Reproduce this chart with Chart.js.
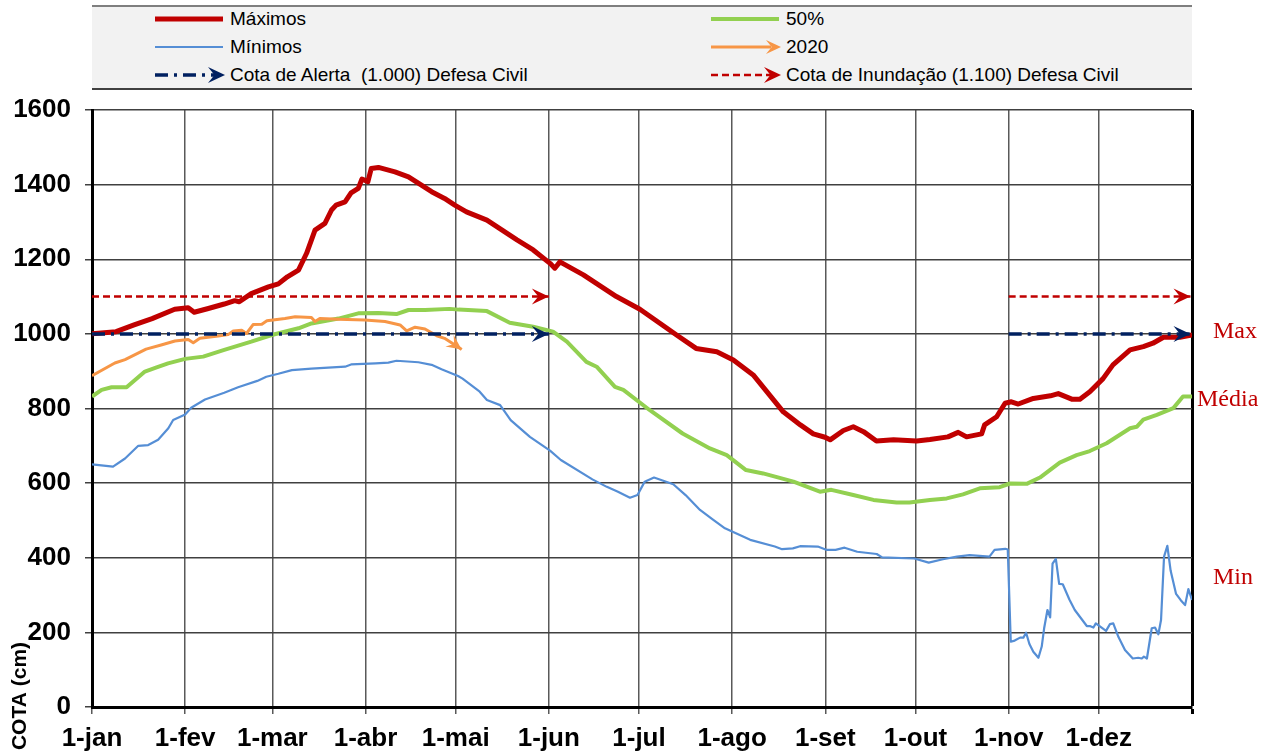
<!DOCTYPE html>
<html><head><meta charset="utf-8">
<script src="https://cdn.jsdelivr.net/npm/chart.js@4.4.1/dist/chart.umd.min.js"></script>
<style>
html,body{margin:0;padding:0;background:#fff;}
#wrap{position:relative;width:1268px;height:753px;overflow:hidden;background:#fff;}
#c{position:absolute;left:0;top:0;}
#legend{position:absolute;left:92px;top:5px;width:1100px;height:85px;background:#f2f2f2;border-top:2px solid #7f7f7f;border-bottom:2px solid #404040;box-sizing:border-box;font-family:"Liberation Sans",Arial,sans-serif;font-size:19px;color:#000;}
.item{position:absolute;height:24px;line-height:24px;white-space:pre;}
.item canvas{position:absolute;left:0;top:0;}
.item span{position:absolute;left:75px;top:0;}
</style>
</head><body>
<div id="wrap">
<canvas id="c" width="1268" height="753"></canvas>
<div id="legend"></div>
</div>
<script>
// ---------- axis ----------
const monthDays = [0,31,60,91,121,152,182,213,244,274,305,335,366];
const monthLabels = ['1-jan','1-fev','1-mar','1-abr','1-mai','1-jun','1-jul','1-ago','1-set','1-out','1-nov','1-dez',''];
const yTicksMin = 0, yTicksMax = 1600, yStep = 200;

// ---------- series labels ----------
const labelMax = 'Máximos';
const labelMed = '50%';
const labelMin = 'Mínimos';
const label2020 = '2020';
const labelAlert = 'Cota de Alerta  (1.000) Defesa Civil';
const labelFlood = 'Cota de Inundação (1.100) Defesa Civil';

// ---------- Máximos ----------
const maxDays = [0,8,14,20,27.5,32,34,38.7,44,47.5,49,53,58.7,62,65,68.7,71.4,74.2,77.5,79.7,81.2,84.2,86.2,88.6,89.8,91.8,92.9,95.3,100.8,105.3,113,117.3,120.7,124.6,131.4,141.4,146.8,152.4,154,155.7,163.5,174.5,182.3,194.5,201,207.9,213.4,220,230,235.7,240,243.9,245.6,250,253.3,256.7,261,266.7,274.4,278.8,284.8,288.2,291,296,297,301,303.8,305.9,308.2,313.2,318.9,321.5,326,328.7,332,336.4,339.7,345.4,349.8,353,356.5,362,366];
const maxVals = [1000,1006,1024,1041,1066,1070,1058,1068,1080,1089,1086,1108,1126,1134,1153,1171,1216,1278,1296,1332,1345,1354,1378,1390,1415,1408,1443,1446,1434,1421,1381,1363,1345,1327,1305,1252,1225,1189,1176,1193,1158,1100,1066,997,961,952,930,890,791,756,732,723,716,741,751,738,713,716,713,717,724,736,724,732,756,778,814,818,812,827,834,840,825,825,845,880,917,957,966,975,991,991,997];

// ---------- 50% ----------
const medDays = [0,3.2,6.5,11.5,17.6,21.5,25.3,31,37,44,53,59.8,68.7,73,82,88.6,95.3,101.3,105.3,110.8,119,122,131.4,139,146.8,153.4,158,164.5,167.9,174,176.8,185.5,196.5,205.6,211.2,217.6,223.3,233.4,242.2,246,253.3,260,267.7,272,278.8,284.4,289.8,295.4,302,305.4,311,315.4,322,327.6,332,337.6,345.4,347.6,349.8,354.3,359.8,363,366];
const medVals = [832,850,857,857,899,910,921,933,939,957,979,997,1015,1028,1041,1055,1056,1053,1064,1064,1067,1065,1061,1030,1019,1006,979,925,912,858,850,796,733,693,675,635,626,604,577,582,568,555,548,548,555,559,570,586,589,599,598,615,655,675,686,707,747,751,770,783,801,832,832];

// ---------- Mínimos ----------
const minDays = [0,7,11,15.4,18.7,22,25.4,27,31,33,37.6,44,48.6,55,58,62,66.5,73,84.2,86.2,94.3,98.6,101.3,108.6,113,116.3,121.8,123.3,129,131.4,135.8,139.3,145.7,152.4,156,166.5,171.3,175,179,181.5,183.9,187,193.4,197.5,202.3,206.5,210.6,219,227.2,229.6,233.2,235.6,241.5,244.5,247.4,250.4,254.6,261.1,262.9,273.6,278.4,283.1,287.8,292,298.6,300.3,303.9,304.7,305.7,307,308.8,309.9,310.8,311.9,313.2,314.9,316,316.8,317.9,318.8,319.6,320.7,321.8,323,325.2,327,331,332,333.2,334,337.4,338.7,339.8,341.5,343.7,346.3,348.1,349.3,350,351,352.6,353.7,354.8,355.7,356.7,357.8,358.9,360.7,362.2,363.7,364.8,366];
const minVals = [650,644,666,700,702,716,747,769,784,802,824,842,857,874,885,893,903,907,912,918,921,923,928,924,917,905,887,880,845,823,809,769,724,687,662,610,590,577,561,568,604,615,597,568,528,503,479,448,430,423,425,431,430,421,421,427,416,410,401,398,387,396,403,407,403,421,424,422,175,178,186,186,199,169,148,132,162,211,260,240,384,397,330,329,288,260,217,217,213,224,204,222,224,188,153,130,132,130,135,130,211,213,195,233,403,432,365,303,287,273,316,287];

// ---------- 2020 ----------
const y2020Days = [0,7.6,11,18,23,27.6,32,33.7,35.9,42,45.3,47,49.8,51.4,53.6,56.5,58.2,64.2,67.6,73,74.2,75.8,82,90.8,97.5,102.5,104.7,107.5,110.8,114.7,117.3,121.8,123];
const y2020Vals = [888,922,931,959,970,981,985,976,988,994,998,1008,1010,1001,1025,1026,1035,1041,1046,1044,1033,1041,1039,1037,1033,1024,1008,1018,1013,995,988,965,958];

// ---------- Defesa Civil levels ----------
const alertLevel = 1000;
const floodLevel = 1100;
const refDays = [0,152,null,305,365.5];

// ---------- right-side annotations ----------
const annLabels = ['Max','Média','Min'];
const annValues = [1005,823,346];

// ---------- build ----------
const pts = (xs, ys) => xs.map((x,i)=>({x:x, y:ys[i]}));
const refPts = (lvl) => refDays.map((d,i)=> d===null ? {x:(refDays[i-1]+refDays[i+1])/2, y:null} : {x:d, y:lvl});

const styles = {
  [labelMax]:  {color:'#C00000', width:5,   dash:[],           arrow:null},
  [labelMed]:  {color:'#92D050', width:4,   dash:[],           arrow:null},
  [labelMin]:  {color:'#558ED5', width:2.2, dash:[],           arrow:null},
  [label2020]: {color:'#F79646', width:3,   dash:[],           arrow:{L:15,W:7}},
  [labelAlert]:{color:'#002060', width:3.5, dash:[13,6,3,6],   arrow:{L:17,W:8}},
  [labelFlood]:{color:'#C00000', width:2.5, dash:[7,4],        arrow:{L:17,W:8}}
};

function ds(label, data, order){
  const s = styles[label];
  return {label, data, borderColor:s.color, backgroundColor:s.color, borderWidth:s.width,
    borderDash:s.dash, pointRadius:0, tension:0, fill:false, spanGaps:false, order};
}

const datasets = [
  ds(labelFlood, refPts(floodLevel), 1),
  ds(labelAlert, refPts(alertLevel), 2),
  ds(label2020, pts(y2020Days, y2020Vals), 3),
  ds(labelMax, pts(maxDays, maxVals), 4),
  ds(labelMed, pts(medDays, medVals), 5),
  ds(labelMin, pts(minDays, minVals), 6)
];

function drawArrow(ctx, x0, y0, x1, y1, color, L, W){
  const a = Math.atan2(y1-y0, x1-x0);
  ctx.save();
  ctx.translate(x1, y1);
  ctx.rotate(a);
  ctx.fillStyle = color;
  ctx.setLineDash([]);
  ctx.beginPath();
  ctx.moveTo(0,0);
  ctx.lineTo(-L, -W);
  ctx.lineTo(-L*0.62, 0);
  ctx.lineTo(-L, W);
  ctx.closePath();
  ctx.fill();
  ctx.restore();
}

const arrowPlugin = {
  id:'arrows',
  afterDatasetsDraw(chart){
    const ctx = chart.ctx;
    chart.data.datasets.forEach((d, di)=>{
      const s = styles[d.label];
      if(!s.arrow) return;
      const meta = chart.getDatasetMeta(di);
      const el = meta.data;
      for(let i=0;i<el.length;i++){
        if(el[i].skip) continue;
        const last = (i===el.length-1) || el[i+1].skip;
        if(last && i>0 && !el[i-1].skip){
          drawArrow(ctx, el[i-1].x, el[i-1].y, el[i].x, el[i].y, s.color, s.arrow.L, s.arrow.W);
        }
      }
    });
  }
};

const textPlugin = {
  id:'texts',
  afterDraw(chart){
    const ctx = chart.ctx;
    const ys = chart.scales.y;
    const ca = chart.chartArea;
    ctx.save();
    ctx.fillStyle = '#C00000';
    ctx.font = '24px "Liberation Serif", "Times New Roman", serif';
    ctx.textBaseline = 'middle';
    ctx.textAlign = 'left';
    const offs = [21, 5, 21];
    annLabels.forEach((t,i)=>{
      ctx.fillText(t, ca.right + offs[i], ys.getPixelForValue(annValues[i]));
    });
    // y axis title
    ctx.fillStyle = '#000';
    ctx.font = 'bold 21px "Liberation Sans", Arial, sans-serif';
    ctx.translate(20, 696);
    ctx.rotate(-Math.PI/2);
    ctx.textAlign = 'center';
    ctx.fillText('COTA (cm)', 0, 0);
    ctx.restore();
  }
};

const tickFont = {family:'"Liberation Sans", Arial, sans-serif', size:26, weight:'bold'};

new Chart(document.getElementById('c'), {
  type:'line',
  data:{datasets},
  options:{
    responsive:false, animation:false, devicePixelRatio:1,
    layout:{padding:{top:110, right:76, left:0, bottom:0}},
    plugins:{legend:{display:false}, tooltip:{enabled:false}},
    elements:{line:{borderCapStyle:'butt', borderJoinStyle:'round'}},
    scales:{
      x:{type:'linear', min:0, max:366,
        afterBuildTicks:(s)=>{ s.ticks = monthDays.map(v=>({value:v})); },
        afterFit:(s)=>{ s.height = 46; },
        ticks:{autoSkip:false, maxRotation:0, color:'#000', font:tickFont, padding:9,
          callback:(v)=>{ const i = monthDays.indexOf(v); return i>=0 ? monthLabels[i] : ''; }},
        grid:{color:(c)=> c.tick && c.tick.value===366 ? '#000' : '#595959',
              lineWidth:(c)=> c.tick && c.tick.value===366 ? 3 : 1.5, tickLength:7, drawTicks:true},
        border:{display:true, color:'#000', width:3}
      },
      y:{min:yTicksMin, max:yTicksMax,
        afterFit:(s)=>{ s.width = 92; },
        ticks:{stepSize:yStep, color:'#000', font:tickFont, padding:14,
          callback:(v)=> String(v)},
        grid:{color:'#404040', lineWidth:1.5, tickLength:7, drawTicks:true},
        border:{display:true, color:'#000', width:3}
      }
    }
  },
  plugins:[arrowPlugin, textPlugin]
});

// ---------- legend (HTML, built from the series styles) ----------
const legendLayout = [
  [labelMax, 63, 0], [labelMin, 63, 28], [labelAlert, 63, 56],
  [labelMed, 619, 0], [label2020, 619, 28], [labelFlood, 619, 56]
];
const lg = document.getElementById('legend');
legendLayout.forEach(([lab, left, top])=>{
  const s = styles[lab];
  const it = document.createElement('div');
  it.className = 'item';
  it.style.left = left + 'px';
  it.style.top = top + 'px';
  const cv = document.createElement('canvas');
  cv.width = 72; cv.height = 24;
  const c = cv.getContext('2d');
  c.strokeStyle = s.color; c.lineWidth = s.width; c.setLineDash(s.dash);
  c.beginPath(); c.moveTo(0,12); c.lineTo(s.arrow ? 60 : 68, 12); c.stroke();
  if(s.arrow) drawArrow(c, 0, 12, 70, 12, s.color, s.arrow.L, s.arrow.W);
  const sp = document.createElement('span');
  sp.textContent = lab;
  it.appendChild(cv); it.appendChild(sp);
  lg.appendChild(it);
});
</script>
</body></html>
